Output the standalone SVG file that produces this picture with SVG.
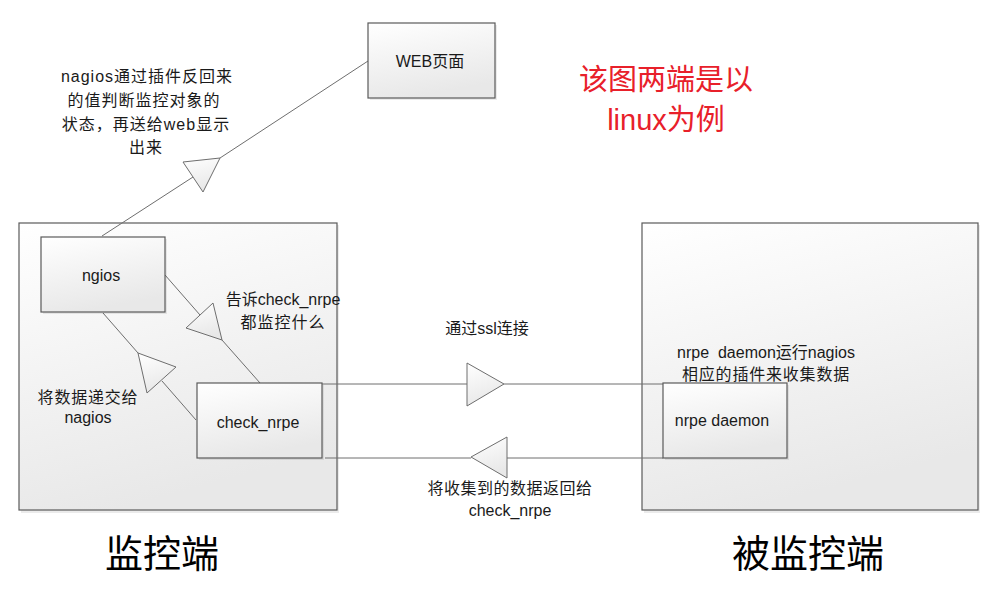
<svg xmlns="http://www.w3.org/2000/svg" width="1000" height="596" viewBox="0 0 1000 596">
<defs>
<linearGradient id="g" x1="0" y1="0" x2="0.3" y2="1">
<stop offset="0" stop-color="#ffffff"/>
<stop offset="1" stop-color="#e8e8e8"/>
</linearGradient>
<style>
.box{fill:url(#g);stroke:#5a5a5a;stroke-width:1.2}
.sh{fill:#000;opacity:0.08}
.t{font-family:"Liberation Sans","Noto Sans CJK SC",sans-serif;font-size:16px;fill:#1a1a1a;text-anchor:middle;white-space:pre}
.ln{fill:none;stroke:#6e6e6e;stroke-width:1}
.tri{fill:url(#g);stroke:#6e6e6e;stroke-width:1}
.red{font-family:"Liberation Sans","Noto Sans CJK SC",sans-serif;font-size:29px;fill:#e8202a;text-anchor:middle}
.big{font-family:"Liberation Serif","Noto Sans CJK SC",serif;font-size:38px;fill:#000;text-anchor:middle}
</style>
</defs>
<rect width="1000" height="596" fill="#ffffff"/>

<g id="monitor-side">
<rect class="sh" x="21" y="225" width="318" height="288"/>
<rect class="box" x="19" y="223" width="318" height="287"/>
</g>
<g id="monitored-side">
<rect class="sh" x="644" y="225" width="336" height="288"/>
<rect class="box" x="642" y="223" width="336" height="287"/>
</g>

<g id="connectors">
<polyline class="ln" points="102,236 193,177"/>
<polyline class="ln" points="220,158 368,61"/>
<polygon class="tri" points="220,158 183,162 203,192"/>
<polyline class="ln" points="165,275 200,315"/>
<polyline class="ln" points="222,340 260,383"/>
<polygon class="tri" points="186,328 213,303 222,340"/>
<polyline class="ln" points="103,313 138,353"/>
<polyline class="ln" points="162,381 196,420"/>
<polygon class="tri" points="138,353 176,367 147,393"/>
<polyline class="ln" points="322,384 467,384"/>
<polyline class="ln" points="504,384 663,384"/>
<polygon class="tri" points="467,363 504,384 467,406"/>
<polyline class="ln" points="325,458 471,458"/>
<polyline class="ln" points="507,458 663,458"/>
<polygon class="tri" points="471,457 507,437 507,478"/>
</g>

<g id="web">
<rect class="sh" x="370" y="25" width="127" height="75"/>
<rect class="box" x="368" y="23" width="127" height="75"/>
<text class="t" x="430" y="67">WEB页面</text>
</g>
<g id="ngios">
<rect class="sh" x="43" y="239" width="124" height="75"/>
<rect class="box" x="41" y="237" width="124" height="75"/>
<text class="t" x="101" y="281">ngios</text>
</g>
<g id="check_nrpe">
<rect class="sh" x="199" y="385" width="125" height="75"/>
<rect class="box" x="197" y="383" width="125" height="75"/>
<text class="t" x="258" y="428">check_nrpe</text>
</g>
<g id="nrpe-daemon">
<rect class="sh" x="665" y="385" width="124" height="75"/>
<rect class="box" x="663" y="383" width="124" height="75"/>
<text class="t" x="722" y="426">nrpe daemon</text>
</g>

<g id="labels">
<text class="t" x="147" y="82" letter-spacing="1">nagios通过插件反回来</text>
<text class="t" x="144" y="106" letter-spacing="1">的值判断监控对象的</text>
<text class="t" x="146" y="130" letter-spacing="1">状态，再送给web显示</text>
<text class="t" x="146" y="153" letter-spacing="1">出来</text>
<text class="t" x="283" y="305">告诉check_nrpe</text>
<text class="t" x="283" y="328" letter-spacing="1">都监控什么</text>
<text class="t" x="88" y="403" letter-spacing="0.8">将数据递交给</text>
<text class="t" x="88" y="423">nagios</text>
<text class="t" x="487" y="334">通过ssl连接</text>
<text class="t" x="766" y="358" xml:space="preserve">nrpe  daemon运行nagios</text>
<text class="t" x="766" y="380" letter-spacing="0.8">相应的插件来收集数据</text>
<text class="t" x="510" y="494" letter-spacing="0.5">将收集到的数据返回给</text>
<text class="t" x="510" y="516">check_nrpe</text>
<text class="red" x="666" y="90">该图两端是以</text>
<text class="red" x="666" y="130">linux为例</text>
<text class="big" x="162" y="567">监控端</text>
<text class="big" x="808" y="567">被监控端</text>
</g>
</svg>
